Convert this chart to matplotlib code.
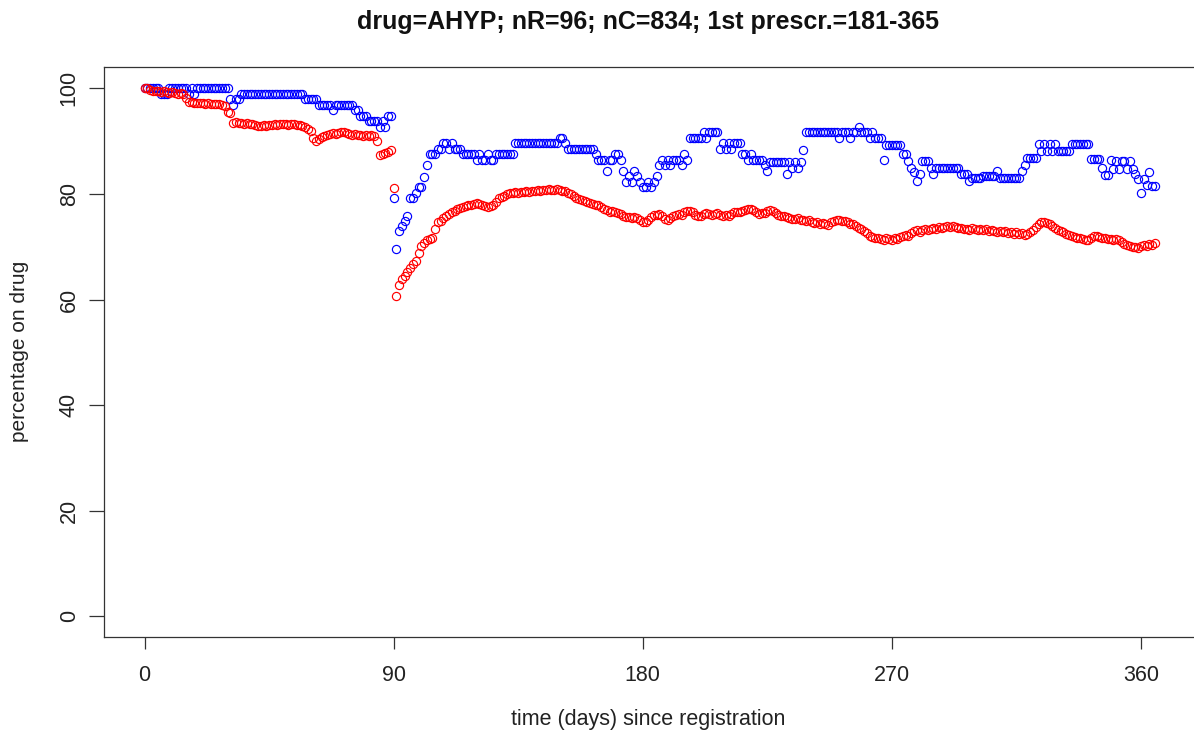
import numpy as np
import matplotlib
matplotlib.use("Agg")
import matplotlib.pyplot as plt

plt.rcParams['font.family'] = ['Liberation Sans', 'DejaVu Sans']

title = "drug=AHYP; nR=96; nC=834; 1st prescr.=181-365"
xlabel = "time (days) since registration"
ylabel = "percentage on drug"
xticks = [0, 90, 180, 270, 360]
yticks = [0, 20, 40, 60, 80, 100]

# percentage on drug per day, group R (blue)
pct_R = [
    100, 100, 100, 100, 100, 100, 98.96, 98.96, 98.96, 100,
    100, 100, 100, 100, 100, 100, 98.96, 100, 98.96, 100,
    100, 100, 100, 100, 100, 100, 100, 100, 100, 100,
    100, 97.92, 96.88, 97.92, 97.92, 98.96, 98.96, 98.96, 98.96, 98.96,
    98.96, 98.96, 98.96, 98.96, 98.96, 98.96, 98.96, 98.96, 98.96, 98.96,
    98.96, 98.96, 98.96, 98.96, 98.96, 98.96, 98.96, 98.96, 97.92, 97.92,
    97.92, 97.92, 97.92, 96.88, 96.88, 96.88, 96.88, 96.88, 95.83, 96.88,
    96.88, 96.88, 96.88, 96.88, 96.88, 96.88, 95.83, 95.83, 94.79, 94.79,
    94.79, 93.75, 93.75, 93.75, 93.75, 92.71, 93.75, 92.71, 94.79, 94.79,
    79.3, 69.6, 72.9, 73.9, 74.9, 75.8, 79.2, 79.2, 80.2, 81.25,
    81.25, 83.3, 85.4, 87.5, 87.5, 87.5, 88.54, 88.54, 89.58, 89.58,
    88.54, 89.58, 88.54, 88.54, 88.54, 87.5, 87.5, 87.5, 87.5, 87.5,
    86.46, 87.5, 86.46, 86.46, 87.5, 86.46, 86.46, 87.5, 87.5, 87.5,
    87.5, 87.5, 87.5, 87.5, 89.58, 89.58, 89.58, 89.58, 89.58, 89.58,
    89.58, 89.58, 89.58, 89.58, 89.58, 89.58, 89.58, 89.58, 89.58, 89.58,
    90.62, 90.62, 89.58, 88.54, 88.54, 88.54, 88.54, 88.54, 88.54, 88.54,
    88.54, 88.54, 88.54, 87.5, 86.46, 86.46, 86.46, 84.38, 86.46, 86.46,
    87.5, 87.5, 86.46, 84.38, 82.29, 83.33, 82.29, 84.38, 83.33, 82.29,
    81.25, 81.25, 82.29, 81.25, 82.29, 83.33, 85.42, 86.46, 85.42, 86.46,
    85.42, 86.46, 86.46, 86.46, 85.42, 87.5, 86.46, 90.62, 90.62, 90.62,
    90.62, 90.62, 91.67, 90.62, 91.67, 91.67, 91.67, 91.67, 88.54, 89.58,
    88.54, 89.58, 88.54, 89.58, 89.58, 89.58, 87.5, 87.5, 86.46, 87.5,
    86.46, 86.46, 86.46, 86.46, 85.42, 84.38, 86.0, 86.0, 86.0, 86.0,
    86.0, 86.0, 83.85, 86.0, 85.0, 86.0, 85.0, 86.0, 88.3, 91.67,
    91.67, 91.67, 91.67, 91.67, 91.67, 91.67, 91.67, 91.67, 91.67, 91.67,
    91.67, 90.62, 91.67, 91.67, 91.67, 90.62, 91.67, 91.67, 92.71, 91.67,
    91.67, 91.67, 90.62, 91.67, 90.62, 90.62, 90.62, 86.46, 89.3, 89.3,
    89.3, 89.3, 89.3, 89.3, 87.5, 87.5, 86.3, 85.0, 84.1, 82.5,
    83.8, 86.3, 86.3, 86.3, 85.0, 83.8, 85.0, 85.0, 85.0, 85.0,
    85.0, 85.0, 85.0, 85.0, 85.0, 83.8, 83.8, 83.8, 82.5, 83.1,
    83.1, 83.1, 83.1, 83.33, 83.33, 83.33, 83.33, 83.33, 84.38, 82.98,
    82.98, 82.98, 82.98, 82.98, 82.98, 82.98, 82.98, 84.38, 85.42, 86.9,
    86.9, 86.9, 86.9, 89.4, 88.2, 89.4, 88.2, 89.4, 88.2, 89.4,
    88.2, 88.2, 88.2, 88.2, 88.2, 89.5, 89.5, 89.5, 89.5, 89.5,
    89.5, 89.5, 86.7, 86.7, 86.7, 86.7, 85.0, 83.5, 83.5, 86.5,
    84.8, 86.2, 84.8, 86.2, 86.2, 84.8, 86.2, 84.8, 83.7, 82.8,
    80.1, 82.8, 81.7, 84.2, 81.5, 81.5,
]

# percentage on drug per day, group C (red)
pct_C = [
    100, 100, 99.7, 99.6, 99.5, 99.6, 99.4, 99.5, 99.3, 99.2,
    99.3, 99.2, 99.0, 99.1, 98.9, 98.2, 97.5, 97.4, 97.3, 97.2,
    97.3, 97.2, 97.1, 97.2, 97.0, 97.1, 97.0, 97.0, 96.8, 96.6,
    95.6, 95.4, 93.5, 93.6, 93.4, 93.5, 93.3, 93.4, 93.2, 93.3,
    93.0, 92.9, 92.8, 93.0, 92.9, 93.1, 93.0, 93.2, 93.1, 93.3,
    93.2, 93.2, 93.1, 93.3, 93.2, 93.0, 93.1, 92.8, 92.7, 92.4,
    91.9, 90.6, 90.1, 90.4, 90.7, 90.9, 91.1, 91.3, 91.5, 91.4,
    91.6, 91.7, 91.8, 91.6, 91.4, 91.2, 91.3, 91.1, 91.2, 91.0,
    91.1, 91.0, 91.1, 90.9, 90.0, 87.4, 87.6, 87.8, 88.0, 88.3,
    81.2, 60.6, 62.8, 63.9, 64.5, 65.3, 66.0, 66.7, 67.3, 68.9,
    70.2, 70.8, 71.2, 71.4, 71.7, 73.3, 74.6, 74.9, 75.4, 75.8,
    76.2, 76.5, 76.8, 77.1, 77.3, 77.6, 77.8, 77.9, 78.0, 78.1,
    78.3, 78.1, 78.0, 77.8, 77.6, 77.7, 78.0, 78.5, 79.3, 79.5,
    79.6, 79.9, 80.1, 80.2, 80.3, 80.1, 80.4, 80.3, 80.5, 80.4,
    80.6, 80.5, 80.7, 80.6, 80.8, 80.7, 80.9, 80.8, 80.7, 80.9,
    80.8, 80.6, 80.5, 80.2, 79.9, 79.6, 79.3, 79.1, 78.9, 78.7,
    78.5, 78.3, 78.1, 78.0, 77.9, 77.6, 77.2, 76.9, 76.6, 76.7,
    76.5, 76.4, 76.2, 75.9, 75.7, 75.6, 75.5, 75.7, 75.4, 75.0,
    74.7, 74.6, 75.0, 75.6, 76.0, 76.1, 76.2, 75.8, 75.3, 75.1,
    75.4, 75.9, 76.1, 76.2, 76.0, 76.5, 76.8, 76.7, 76.6, 76.1,
    75.8, 75.9, 76.2, 76.3, 76.2, 76.1, 76.2, 76.3, 76.0, 75.9,
    76.0, 75.8, 76.2, 76.5, 76.5, 76.6, 76.8, 77.0, 77.2, 77.1,
    76.9, 76.5, 76.2, 76.3, 76.4, 76.8, 76.9, 76.7, 76.4, 76.0,
    75.8, 75.9, 75.7, 75.4, 75.3, 75.2, 75.4, 75.1, 75.0, 74.9,
    75.0, 74.7, 74.5, 74.6, 74.4, 74.5, 74.3, 74.2, 74.6, 74.9,
    75.1, 75.0, 74.8, 74.9, 74.6, 74.3, 74.4, 74.0, 73.6, 73.3,
    73.0, 72.6, 72.0, 71.8, 71.6, 71.7, 71.4, 71.3, 71.6, 71.5,
    71.3, 71.6, 71.5, 71.8, 72.0, 72.3, 72.1, 72.6, 72.9, 73.1,
    72.8, 73.2, 73.4, 73.1, 73.3, 73.6, 73.4, 73.7, 73.6, 73.8,
    73.9, 73.7, 74.0, 73.8, 73.5, 73.6, 73.3, 73.4, 73.2, 73.5,
    73.4, 73.2, 73.4, 73.1, 73.3, 73.0, 73.2, 73.0, 72.8, 73.0,
    72.7, 72.9, 72.6, 72.8, 72.5, 72.7, 72.4, 72.6, 72.3, 72.5,
    72.7, 73.2, 73.8, 74.3, 74.6, 74.7, 74.5, 74.3, 74.0, 73.6,
    73.2, 72.9, 72.8, 72.5, 72.3, 72.1, 71.9, 71.7, 71.6, 71.4,
    71.3, 71.2, 71.6, 72.0, 72.1, 71.9, 71.7, 71.6, 71.4, 71.5,
    71.3, 71.4, 71.2, 70.9, 70.6, 70.3, 70.1, 69.9, 70.0, 69.8,
    70.1, 70.3, 70.2, 70.5, 70.4, 70.8,
]

days_R = np.arange(len(pct_R))
days_C = np.arange(len(pct_C))

W, H = 1194, 738
fig = plt.figure(figsize=(W / 100, H / 100), dpi=100)
# plot box: left edge at 104 px, right edge runs past the canvas
left, right, top, bottom = 104, 1198, 67.3, 637.3
ax = fig.add_axes([left / W, 1 - bottom / H, (right - left) / W, (bottom - top) / H])

mk = dict(marker='o', linestyle='none', markersize=5.9,
          markerfacecolor='none', markeredgewidth=0.85)
ax.plot(days_R, pct_R, markeredgecolor='#0000FF', **mk)
ax.plot(days_C, pct_C, markeredgecolor='#FF0000', **mk)

ax.set_xlim(-14.64, 380.6)
ax.set_ylim(-4, 104)
ax.set_xticks(xticks)
ax.set_yticks(yticks)
ax.set_yticklabels([str(v) for v in yticks], rotation=90, va='center')

for s in ax.spines.values():
    s.set_color('#333333')
    s.set_linewidth(0.9)
ax.tick_params(axis='x', length=8.6, width=0.9, color='#333333', pad=11,
               labelsize=15.5, labelcolor='#222222')
ax.tick_params(axis='y', length=10.5, width=0.9, color='#333333', pad=7,
               labelsize=15.5, labelcolor='#222222')

fig.text(648 / W, 1 - 22 / H, title, ha='center', va='center',
         fontsize=18, fontweight='bold', color='#111111')
fig.text(648 / W, 1 - 720 / H, xlabel, ha='center', va='center',
         fontsize=15.5, color='#222222')
fig.text(20 / W, 1 - 351 / H, ylabel, ha='center', va='center',
         rotation=90, fontsize=15, color='#222222')

fig.savefig("out.png", dpi=100)
